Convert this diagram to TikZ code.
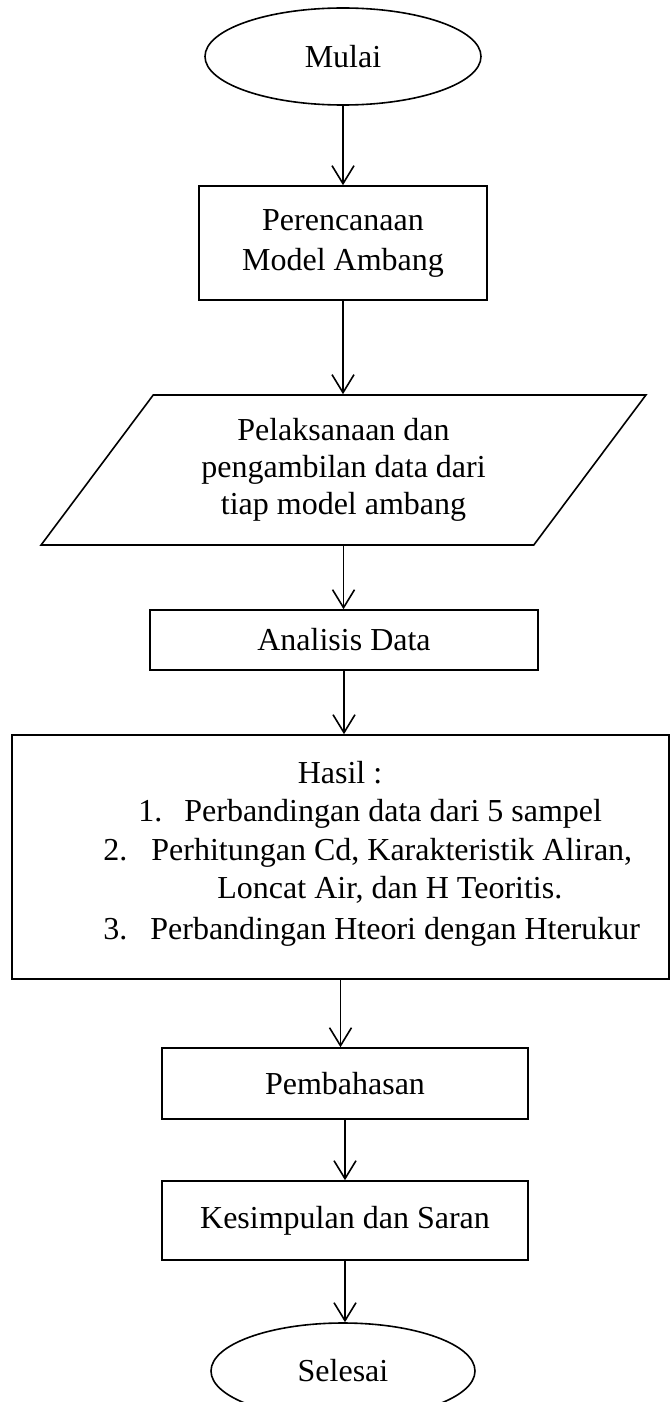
\documentclass[tikz,border=0pt]{standalone}
\usepackage{fontspec}
\setmainfont{Liberation Serif}
\usetikzlibrary{shapes.geometric,arrows.meta}

\begin{document}
\begin{tikzpicture}[x=0.5pt,y=-0.5pt,
  every node/.style={font=\fontsize{16}{20}\selectfont},
  terminal/.style={draw,ellipse,line width=0.8pt,inner sep=0pt},
  proses/.style={draw,rectangle,line width=0.8pt,align=center,inner sep=0pt},
  data/.style={draw,trapezium,trapezium left angle=50.9,trapezium right angle=129.1,
    trapezium stretches=true,line width=0.8pt,align=center,inner sep=0pt,
    font=\fontsize{16}{18.5}\selectfont},
  panah/.style={-{Straight Barb[length=9pt,width=11pt]},line width=0.8pt}]

  \useasboundingbox (0,0) rectangle (670,1402);

% Awal dan akhir
  \node[terminal,minimum width=138pt,minimum height=48.5pt] (mulai) at (343,56.5) {Mulai};
  \node[terminal,minimum width=132pt,minimum height=48pt] (selesai) at (343,1371) {Selesai};

% Proses
  \node[proses,minimum width=144pt,minimum height=57pt] (rencana) at (343,243) {Perencanaan\\Model Ambang};
  \node[data,minimum width=303.5pt,minimum height=75pt] (laksana) at (343.5,470) {Pelaksanaan dan\\pengambilan data dari\\tiap model ambang};
  \node[proses,minimum width=194pt,minimum height=30pt] (analisis) at (344,640) {Analisis Data};
  \node[proses,minimum width=328.5pt,minimum height=122pt] (hasil) at (340.5,857) {};
  \node[proses,minimum width=183pt,minimum height=35.5pt] (bahas) at (345,1083.5) {Pembahasan};
  \node[proses,minimum width=183pt,minimum height=39.5pt] (simpul) at (345,1220.5) {Kesimpulan dan Saran};

% Isi kotak hasil
  \node[anchor=base,inner sep=0pt] (hasil0) at (340,783) {Hasil :};
  \node[anchor=base west,inner sep=0pt] (hasil1) at (138,821) {\makebox[23pt][l]{1.}Perbandingan data dari 5 sampel};
  \node[anchor=base west,inner sep=0pt] (hasil2) at (103,860.5) {\makebox[24pt][l]{2.}Perhitungan Cd, Karakteristik Aliran,};
  \node[anchor=base west,inner sep=0pt] (hasil3) at (217,898) {Loncat Air, dan H Teoritis.};
  \node[anchor=base west,inner sep=0pt] (hasil4) at (103,939) {\makebox[23.5pt][l]{3.}Perbandingan Hteori dengan Hterukur};

% Panah
  \foreach \a/\b in {mulai/rencana,rencana/laksana,laksana/analisis,analisis/hasil,hasil/bahas,bahas/simpul,simpul/selesai}
    \draw[panah] (\a.south) -- (\a.south |- \b.north);

\end{tikzpicture}
\end{document}
